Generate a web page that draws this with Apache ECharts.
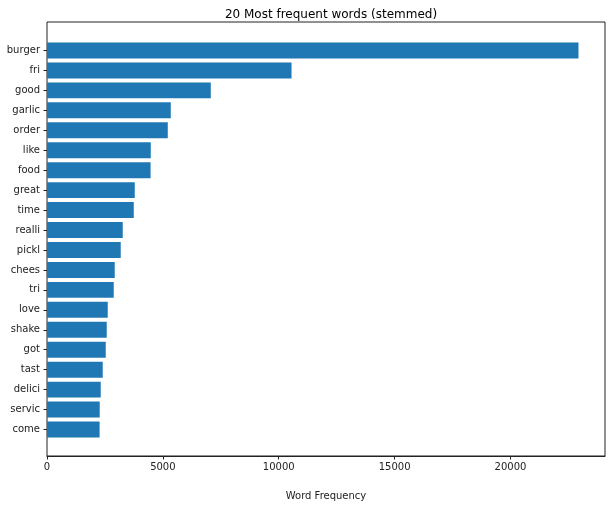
<!DOCTYPE html>
<html>
<head>
<meta charset="utf-8">
<script src="https://cdn.jsdelivr.net/npm/echarts@6/dist/echarts.min.js"></script>
<style>
html, body { margin: 0; padding: 0; background: #fff; }
#chart { width: 612px; height: 507px; }
</style>
</head>
<body>
<div id="chart"></div>
<script>
const categories = ['burger', 'fri', 'good', 'garlic', 'order', 'like', 'food', 'great', 'time', 'realli',
  'pickl', 'chees', 'tri', 'love', 'shake', 'got', 'tast', 'delici', 'servic', 'come'];
const frequencies = [22935, 10553, 7068, 5341, 5212, 4478, 4470, 3787, 3744, 3269,
  3182, 2923, 2880, 2621, 2578, 2535, 2405, 2319, 2275, 2270];
const xTickInterval = 5000;
const xMax = 24080;

const font = 'DejaVu Sans';
const textColor = '#222';
const chart = echarts.init(document.getElementById('chart'), null, { renderer: 'canvas' });
chart.setOption({
  animation: false,
  backgroundColor: '#fff',
  title: {
    text: '20 Most frequent words (stemmed)',
    left: 326, top: 4, textAlign: 'center',
    textStyle: { fontFamily: font, fontSize: 12, fontWeight: 'normal', color: '#000' }
  },
  grid: [
    { left: 47, top: 22, width: 558, height: 434, show: true, borderColor: '#222', borderWidth: 1, backgroundColor: 'transparent' },
    { left: 47, top: 40.5, width: 558, height: 399 }
  ],
  xAxis: [
    {
      type: 'value', gridIndex: 0, min: 0, max: xMax, interval: xTickInterval,
      name: 'Word Frequency', nameLocation: 'middle', nameGap: 35,
      nameTextStyle: { fontFamily: font, fontSize: 10, color: textColor },
      axisLine: { show: true, lineStyle: { color: '#222', width: 1 } },
      axisTick: { show: true, length: 3.5, lineStyle: { color: '#222' } },
      axisLabel: { fontFamily: font, fontSize: 10, color: textColor, margin: 6, showMaxLabel: false,
        formatter: (v) => String(v) },
      splitLine: { show: false }
    },
    { type: 'value', gridIndex: 1, min: 0, max: xMax, show: false, splitLine: { show: false } }
  ],
  yAxis: [
    { type: 'value', gridIndex: 0, min: 0, max: 1, show: false, splitLine: { show: false } },
    {
      type: 'category', gridIndex: 1, data: categories, inverse: true,
      axisLine: { show: false },
      axisTick: { show: true, alignWithLabel: true, length: 3.5, lineStyle: { color: '#222' } },
      axisLabel: { fontFamily: font, fontSize: 10, color: textColor, margin: 7, interval: 0 },
      splitLine: { show: false }
    }
  ],
  series: [{
    type: 'bar', xAxisIndex: 1, yAxisIndex: 1, data: frequencies,
    barWidth: '80%', itemStyle: { color: '#1f77b4' }
  }]
});
</script>
</body>
</html>
